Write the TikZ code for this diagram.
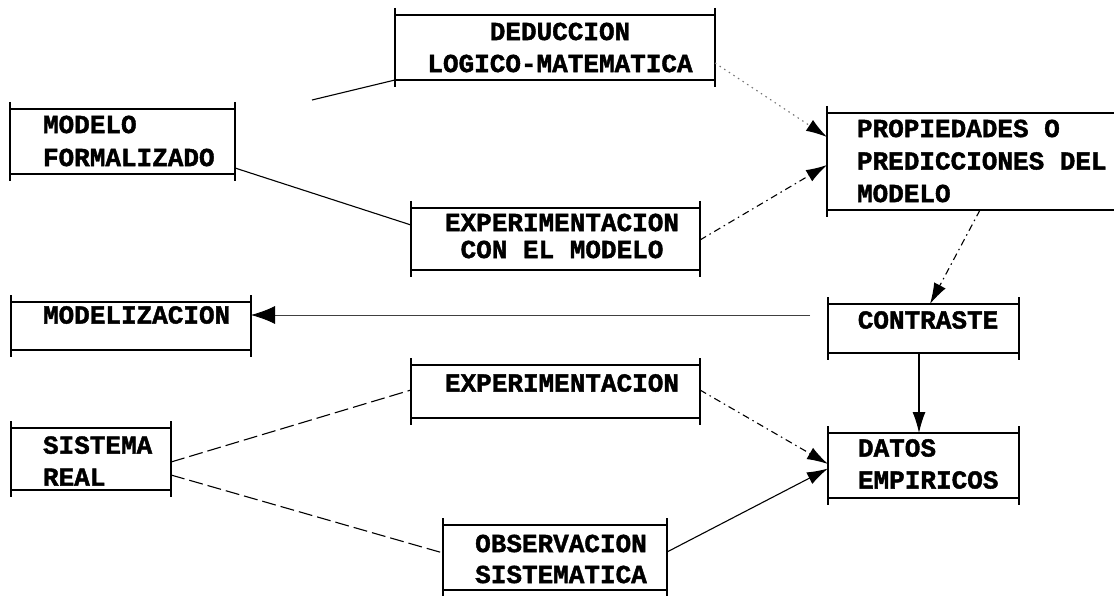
\documentclass[tikz,border=0pt]{standalone}
\usepackage{fontspec}
\newfontfamily\typefont{Liberation Mono}[FakeBold=1.6]
\usetikzlibrary{arrows.meta}

% Frame of a box: heavy top and bottom rules, side rules that overshoot
\newcommand\tickframe[1]{%
  \draw[rule] (#1.north west) -- (#1.north east) (#1.south west) -- (#1.south east);
  \draw[side] ([yshift=7pt]#1.north west) -- ([yshift=-7pt]#1.south west)
              ([yshift=7pt]#1.north east) -- ([yshift=-7pt]#1.south east);}

\tikzset{
  frame/.style={draw=none, inner sep=0pt, outer sep=0pt},
  rule/.style={line width=1.8pt},
  side/.style={line width=1.2pt},
  words/.style={font=\typefont\bfseries\fontsize{26pt}{#1}\selectfont,
                inner sep=0pt, outer sep=0pt},
  words/.default=32pt,
  conn/.style={line width=1.1pt},
  arr/.style={arrows={-Latex[length=21pt,width=13pt,fill=black,color=black]}},
  bigarr/.style={arrows={-Latex[length=24pt,width=18pt,fill=black,color=black]}},
  faint/.style={black!55, dash pattern=on 1.5pt off 4pt},
  dashdot/.style={dash pattern=on 7pt off 4pt on 1.5pt off 4pt},
  longdash/.style={dash pattern=on 14pt off 5pt}
}

\begin{document}
\begin{tikzpicture}[x=1pt,y=-1pt]
\useasboundingbox (0,0) rectangle (1114,596);
\clip (0,0) rectangle (1114,596);

% box frames
\node[frame, minimum width=225pt, minimum height=65pt] (mf)   at (122.5,141.5) {};
\node[frame, minimum width=320pt, minimum height=65pt] (ded)  at (555,47.5) {};
\node[frame, minimum width=313pt, minimum height=97pt] (prop) at (983.5,161.5) {};
\node[frame, minimum width=289pt, minimum height=62pt] (exm)  at (555.5,239) {};
\node[frame, minimum width=240pt, minimum height=48pt] (mod)  at (131,326) {};
\node[frame, minimum width=191pt, minimum height=49pt] (con)  at (923.5,328.5) {};
\node[frame, minimum width=289pt, minimum height=53pt] (exp)  at (555.5,391.5) {};
\node[frame, minimum width=160pt, minimum height=62pt] (sr)   at (91,459) {};
\node[frame, minimum width=191pt, minimum height=65pt] (dat)  at (923.5,465.5) {};
\node[frame, minimum width=224pt, minimum height=65pt] (obs)  at (555,557.5) {};

\foreach \b in {mf,ded,prop,exm,mod,con,exp,sr,dat,obs} {\tickframe{\b}}

% box texts
\node[words=33pt, anchor=west, align=left]   (mf-t)   at (43,141)  {MODELO\\FORMALIZADO};
\node[words, align=center]                   (ded-t)  at (560,47.5) {DEDUCCION\\LOGICO-MATEMATICA};
\node[words=32.5pt, anchor=west, align=left] (prop-t) at (857,161) {PROPIEDADES O\\PREDICCIONES DEL\\MODELO};
\node[words=27pt, align=center]              (exm-t)  at (562,236) {EXPERIMENTACION\\CON EL MODELO};
\node[words, anchor=west]                    (mod-t)  at (43,315)  {MODELIZACION};
\node[words]                                 (con-t)  at (928,320) {CONTRASTE};
\node[words]                                 (exp-t)  at (562,383) {EXPERIMENTACION};
\node[words, anchor=west, align=left]        (sr-t)   at (43,461)  {SISTEMA\\REAL};
\node[words, anchor=west, align=left]        (dat-t)  at (858,464) {DATOS\\EMPIRICOS};
\node[words=31pt, align=center]              (obs-t)  at (561,559) {OBSERVACION\\SISTEMATICA};

% connectors
\draw[conn] ([yshift=-26.5pt]mf.east) -- ([yshift=14pt]exm.west);
\coordinate (dedin) at (312,100);
\draw[conn] (dedin) -- (ded.south west);
\draw[conn, faint, arr] ([yshift=-15.5pt]ded.east) -- ([yshift=24.5pt]prop.west);
\draw[conn, dashdot, arr] ([yshift=-1pt]exm.east) -- ([yshift=-3.5pt]prop.west);
\draw[conn, dashdot, arr] ([xshift=-3.5pt]prop.south) -- ([xshift=6.5pt]con.north);
\draw[line width=0.8pt, black!75, bigarr, shorten <=18pt] ([yshift=13.5pt]con.west) -- ([yshift=11pt]mod.east);
\draw[conn, arr] ([xshift=-4.5pt]con.south) -- ([xshift=-4.5pt]dat.north);
\draw[conn, longdash] ([yshift=-3pt]sr.east) -- ([yshift=1.5pt]exp.west);
\draw[conn, longdash] ([yshift=-16pt]sr.east) -- ([yshift=4.5pt]obs.west);
\draw[conn, dashdot, arr] ([yshift=1.5pt]exp.east) -- ([yshift=1.5pt]dat.west);
\draw[conn, arr] ([yshift=5.5pt]obs.east) -- ([yshift=-3pt]dat.west);
\end{tikzpicture}
\end{document}
